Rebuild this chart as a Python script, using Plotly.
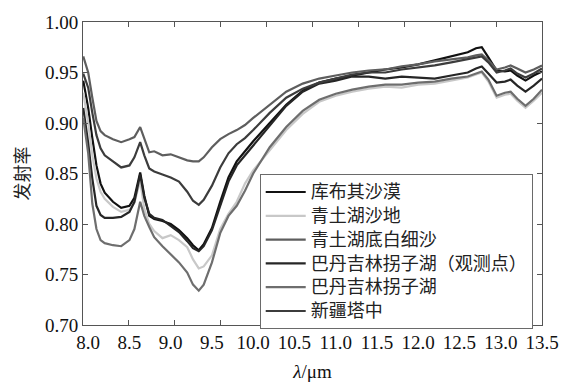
import plotly.graph_objects as go

# wavelength grid (um)
wavelength = [7.94, 8.0, 8.05, 8.1, 8.15, 8.2, 8.3, 8.4, 8.5, 8.56, 8.63, 8.68, 8.74, 8.8, 8.9,
              9.0, 9.1, 9.2, 9.27, 9.34, 9.4, 9.5, 9.6, 9.7, 9.8, 9.9, 10.0, 10.2, 10.4, 10.6,
              10.8, 11.0, 11.2, 11.4, 11.6, 11.8, 12.0, 12.2, 12.4, 12.6, 12.7, 12.77, 12.85,
              12.95, 13.05, 13.12, 13.2, 13.3, 13.4, 13.5]

kubuqi = [0.942, 0.915, 0.885, 0.858, 0.840, 0.831, 0.822, 0.816, 0.818, 0.826, 0.851, 0.828, 0.808,
          0.805, 0.803, 0.800, 0.794, 0.786, 0.779, 0.774, 0.780, 0.796, 0.822, 0.846, 0.862, 0.872,
          0.882, 0.900, 0.918, 0.932, 0.940, 0.944, 0.947, 0.950, 0.953, 0.955, 0.958, 0.962, 0.966,
          0.970, 0.974, 0.975, 0.965, 0.952, 0.951, 0.952, 0.947, 0.942, 0.947, 0.951]

qingtu_sand = [0.930, 0.900, 0.868, 0.845, 0.832, 0.825, 0.817, 0.812, 0.814, 0.821, 0.843, 0.815, 0.800,
               0.793, 0.786, 0.789, 0.784, 0.777, 0.765, 0.756, 0.758, 0.769, 0.795, 0.810, 0.822, 0.840,
               0.853, 0.873, 0.893, 0.909, 0.921, 0.927, 0.931, 0.934, 0.936, 0.935, 0.938, 0.939, 0.942,
               0.945, 0.948, 0.950, 0.941, 0.925, 0.928, 0.929, 0.922, 0.915, 0.922, 0.930]

qingtu_white = [0.966, 0.950, 0.925, 0.902, 0.892, 0.888, 0.884, 0.881, 0.884, 0.886, 0.896, 0.884, 0.871,
                0.872, 0.868, 0.869, 0.866, 0.863, 0.862, 0.862, 0.866, 0.876, 0.884, 0.889, 0.893, 0.898,
                0.905, 0.918, 0.931, 0.939, 0.944, 0.947, 0.950, 0.952, 0.953, 0.956, 0.958, 0.961, 0.963,
                0.965, 0.967, 0.968, 0.962, 0.953, 0.955, 0.957, 0.954, 0.950, 0.953, 0.957]

badain_obs = [0.915, 0.880, 0.845, 0.818, 0.809, 0.806, 0.806, 0.807, 0.812, 0.822, 0.849, 0.826, 0.810,
              0.806, 0.804, 0.798, 0.792, 0.783, 0.776, 0.773, 0.778, 0.794, 0.818, 0.842, 0.858, 0.868,
              0.878, 0.898, 0.917, 0.931, 0.939, 0.942, 0.946, 0.946, 0.944, 0.946, 0.945, 0.944, 0.947,
              0.950, 0.954, 0.956, 0.949, 0.940, 0.941, 0.943, 0.937, 0.931, 0.937, 0.944]

badain = [0.905, 0.870, 0.820, 0.795, 0.784, 0.781, 0.779, 0.778, 0.784, 0.795, 0.822, 0.808, 0.797,
          0.787, 0.778, 0.770, 0.762, 0.752, 0.740, 0.734, 0.740, 0.762, 0.791, 0.808, 0.818, 0.833,
          0.850, 0.876, 0.896, 0.912, 0.923, 0.929, 0.933, 0.936, 0.938, 0.938, 0.940, 0.941, 0.944,
          0.946, 0.949, 0.951, 0.943, 0.927, 0.930, 0.931, 0.924, 0.917, 0.924, 0.933]

tazhong = [0.949, 0.935, 0.910, 0.888, 0.875, 0.868, 0.862, 0.856, 0.858, 0.866, 0.881, 0.868, 0.855,
           0.852, 0.849, 0.846, 0.842, 0.832, 0.823, 0.819, 0.824, 0.838, 0.856, 0.870, 0.879, 0.885,
           0.893, 0.910, 0.925, 0.934, 0.940, 0.944, 0.948, 0.950, 0.950, 0.953, 0.955, 0.957, 0.960,
           0.963, 0.965, 0.966, 0.960, 0.950, 0.952, 0.954, 0.949, 0.945, 0.949, 0.954]

series_names = ["库布其沙漠", "青土湖沙地", "青土湖底白细沙", "巴丹吉林拐子湖（观测点）", "巴丹吉林拐子湖", "新疆塔中"]
series_values = [kubuqi, qingtu_sand, qingtu_white, badain_obs, badain, tazhong]
series_colors = ["#111111", "#c8c8c8", "#5e5e5e", "#262626", "#6e6e6e", "#3c3c3c"]

x_tick_vals = [8.0, 8.5, 9.0, 9.5, 10.0, 10.5, 11.0, 11.5, 12.0, 12.5, 13.0, 13.5]
x_tick_text = ["8.0", "8.5", "9.0", "9.5", "10.0", "10.5", "11.0", "11.5", "12.0", "12.5", "13.0", "13.5"]
y_tick_vals = [0.70, 0.75, 0.80, 0.85, 0.90, 0.95, 1.00]
y_tick_text = ["0.70", "0.75", "0.80", "0.85", "0.90", "0.95", "1.00"]

fig = go.Figure()
for name, vals, col in zip(series_names, series_values, series_colors):
    fig.add_trace(go.Scatter(x=wavelength, y=vals, mode="lines",
                             name='<span style="font-size:18px">' + name + '</span>',
                             line=dict(color=col, width=2.2)))
# empty helper trace so the tick-only overlay axis is drawn
fig.add_trace(go.Scatter(x=[], y=[], xaxis="x2", yaxis="y", showlegend=False, hoverinfo="skip"))

serif = "Liberation Serif, Times New Roman, serif"
cjk = "Noto Sans CJK SC"
axis_col = "#555555"

fig.update_layout(
    width=571, height=390,
    margin=dict(l=83, r=23, t=16, b=57),
    paper_bgcolor="white", plot_bgcolor="white",
    showlegend=True,
    legend=dict(x=0.385, y=0.498, xanchor="left", yanchor="top",
                bgcolor="white", bordercolor="#6a6a6a", borderwidth=1,
                font=dict(family=cjk, size=16, color="#222222"),
                tracegroupgap=0, itemwidth=40),
    xaxis=dict(range=[7.937, 13.5], tickvals=x_tick_vals, ticktext=x_tick_text,
               ticks="", showgrid=False, zeroline=False,
               showline=True, linecolor=axis_col, linewidth=1, mirror=True,
               tickfont=dict(family=serif, size=19, color="#111111"),
               title=dict(text="<i>λ</i>/μm", font=dict(family=serif, size=19, color="#111111"),
                          standoff=12)),
    xaxis2=dict(overlaying="x", anchor="y", range=[0, 10], dtick=1, tick0=0, ticks="inside", ticklen=5,
                tickcolor=axis_col, showticklabels=False, showgrid=False, zeroline=False,
                showline=False, mirror="ticks", side="bottom"),
    yaxis=dict(range=[0.70, 1.00], tickvals=y_tick_vals, ticktext=y_tick_text,
               ticks="inside", ticklen=5, tickcolor=axis_col,
               showgrid=False, zeroline=False,
               showline=True, linecolor=axis_col, linewidth=1, mirror="ticks",
               tickfont=dict(family=serif, size=19, color="#111111"),
               title=dict(text="发射率", font=dict(family=cjk, size=18, color="#222222"),
                          standoff=10)),
)

fig.write_html("out.html")
